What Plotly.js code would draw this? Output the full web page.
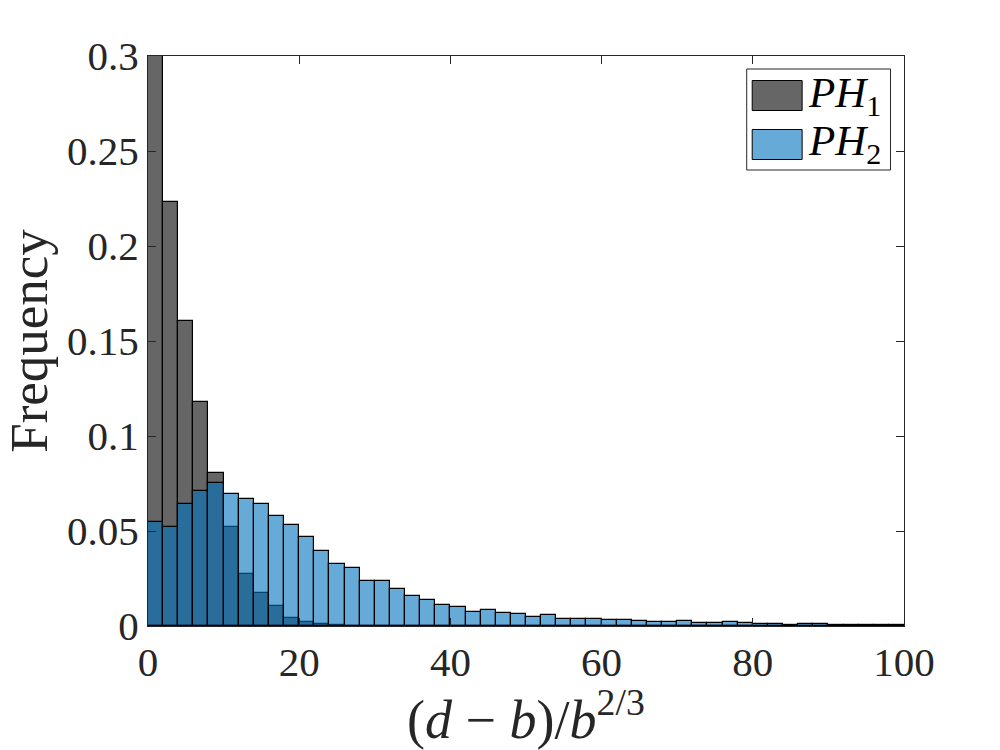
<!DOCTYPE html>
<html>
<head>
<meta charset="utf-8">
<script src="https://cdn.plot.ly/plotly-3.0.1.min.js"></script>
<style>
  html, body { margin:0; padding:0; background:#fff; }
  #chart { width:1000px; height:750px; }
</style>
</head>
<body>
<div id="chart"></div>
<script>
// bins are 2 wide, from 0 to 100
const binCenters = [1,3,5,7,9,11,13,15,17,19,21,23,25,27,29,31,33,35,37,39,41,43,45,47,49,
                    51,53,55,57,59,61,63,65,67,69,71,73,75,77,79,81,83,85,87,89,91,93,95,97,99];

const ph1Values = [0.3,0.223,0.1605,0.1177,0.0805,0.0521,0.0274,0.0174,0.0105,0.0042,0.0021,0.0011,0.0005,
                   0,0,0,0,0,0,0,0,0,0,0,0,0,0,0,0,0,0,0,0,0,0,0,0,0,0,0,0,0,0,0,0,0,0,0,0,0];

const ph2Values = [0.0547,0.0521,0.0642,0.0711,0.0753,0.0695,0.0668,0.0642,0.0579,0.0532,
                   0.0468,0.0395,0.0326,0.0305,0.0237,0.0237,0.0195,0.0158,0.0137,0.0111,
                   0.01,0.0074,0.0084,0.0068,0.0063,0.0047,0.0058,0.0037,0.0037,0.0037,
                   0.0032,0.0032,0.0026,0.0021,0.0021,0.0026,0.0016,0.0016,0.0021,0.0016,
                   0.0011,0.0011,0.0005,0.0011,0.0011,0.0004,0.0004,0.0003,0.0003,0.0003];

const seriesNames = ['<i>PH</i><sub>1</sub>', '<i>PH</i><sub>2</sub>'];
const xTicks = [0,20,40,60,80,100];
const yTicks = [0,0.05,0.1,0.15,0.2,0.25,0.3];
const yTickLabels = ['0','0.05','0.1','0.15','0.2','0.25','0.3'];

const SERIF = '"Liberation Serif", "DejaVu Serif", serif';
const INK = '#262626';
const FILLS = ['rgba(0,0,0,0.6)', 'rgba(0,114,189,0.6)'];

function barTrace(values, i) {
  return {
    type: 'bar', x: binCenters, y: values, width: 2,
    name: seriesNames[i], showlegend: false,
    marker: { color: FILLS[i], line: { color: '#000', width: 1.2 } }
  };
}

// the legend swatches are 50x30 in the original, too big for plotly's own legend
const W = 757, H = 570;
function px(x) { return (x - 147.5) / W; }
function py(y) { return (626 - y) / H; }

const legendShapes = [
  { x0:747, x1:891, y0:69, y1:170, fill:'#fff', line:INK },
  { x0:752.5, x1:802.5, y0:80.5, y1:110.5, fill:'#666666', line:'#000' },
  { x0:752.5, x1:802.5, y0:129.5, y1:159.5, fill:'#66AAD7', line:'#000' }
].map(s => ({
  type:'rect', xref:'paper', yref:'paper',
  x0:px(s.x0), x1:px(s.x1), y0:py(s.y0), y1:py(s.y1),
  fillcolor:s.fill, line:{ color:s.line, width:1 }, layer:'above'
}));

const legendLabels = seriesNames.map((name, i) => ({
  text: name, xref:'paper', yref:'paper', showarrow:false,
  x: px(806), y: py([96, 144][i]), xanchor:'left', yanchor:'middle',
  font: { family:SERIF, size:43, color:'#000' }
}));

function axis(extra) {
  return Object.assign({
    showgrid:false, zeroline:false, showline:true, mirror:'ticks',
    linecolor:INK, linewidth:1, ticks:'inside', ticklen:8, tickwidth:1, tickcolor:INK,
    tickfont:{ family:SERIF, size:41, color:INK }, automargin:false
  }, extra);
}

const layout = {
  width:1000, height:750,
  paper_bgcolor:'#fff', plot_bgcolor:'#fff',
  margin:{ l:147.5, r:95.5, t:56, b:124, pad:0 },
  barmode:'overlay', bargap:0, showlegend:false,
  xaxis: axis({
    range:[0,100], tickmode:'array', tickvals:xTicks, ticktext:xTicks.map(String),
    title:{ text:'(<i>d</i> \u2212 <i>b</i>)/<i>b</i><sup>2/3</sup>', standoff:0,
            font:{ family:SERIF, size:54, color:INK } }
  }),
  yaxis: axis({
    range:[0,0.3], tickmode:'array', tickvals:yTicks, ticktext:yTickLabels,
    title:{ text:'Frequency', standoff:8, font:{ family:SERIF, size:53, color:INK } }
  }),
  shapes: legendShapes,
  annotations: legendLabels
};

Plotly.newPlot('chart', [barTrace(ph1Values,0), barTrace(ph2Values,1)], layout, { displayModeBar:false, responsive:false });
</script>
</body>
</html>
